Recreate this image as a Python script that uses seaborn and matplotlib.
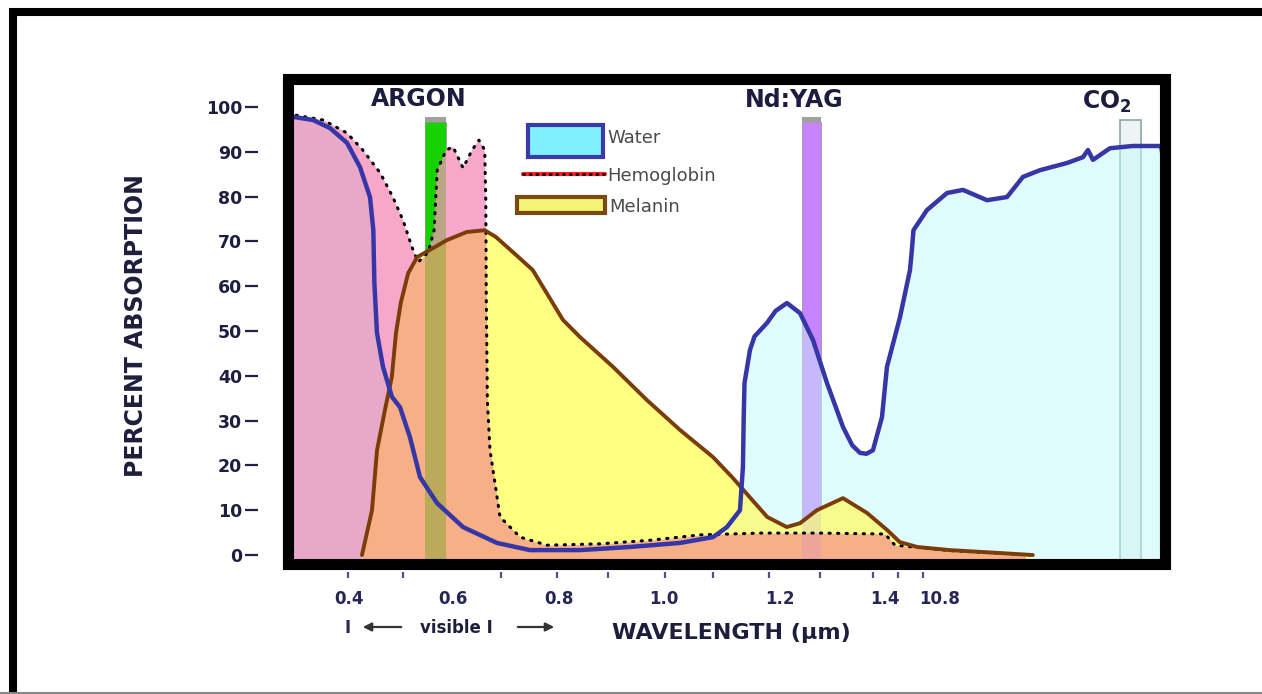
import numpy as np
import matplotlib
matplotlib.use('Agg')
import matplotlib.pyplot as plt
from matplotlib.patches import Rectangle
from matplotlib.lines import Line2D
import seaborn as sns

# x is the chart's position scale (0.4 .. 1.4 spaced as on the original, then 10.8 and beyond)
hemo_x = [0.286, 0.300, 0.353, 0.398, 0.428, 0.461, 0.485, 0.504, 0.521, 0.533, 0.552, 0.563,
          0.569, 0.586, 0.599, 0.618, 0.635, 0.648, 0.659, 0.661, 0.662, 0.664, 0.669, 0.688,
          0.726, 0.777, 0.877, 0.972, 1.067, 1.180, 1.294, 1.417, 1.436, 1.540, 1.650, 1.690]
hemo_y = [98.5, 98.2, 97.1, 94.2, 90.4, 85.3, 79.9, 74.8, 68.8, 65.4, 67.6, 72.5,
          85.9, 90.4, 91.1, 86.4, 90.4, 92.6, 90.4, 79.2, 56.9, 34.6, 23.4, 8.5,
          4.0, 2.2, 2.5, 3.3, 4.5, 4.9, 4.9, 4.7, 2.2, 1.0, 0.3, 0.0]

mel_x = [0.4265, 0.4455, 0.455, 0.470, 0.483, 0.491, 0.500, 0.514, 0.531, 0.555, 0.5875, 0.625,
         0.659, 0.680, 0.7125, 0.750, 0.807, 0.839, 0.902, 0.966, 1.029, 1.091, 1.129, 1.161,
         1.194, 1.231, 1.256, 1.288, 1.3375, 1.383, 1.421, 1.445, 1.478, 1.540, 1.635, 1.697]
mel_y = [0, 10.0, 23.4, 32.4, 39.7, 49.6, 56.3, 62.9, 66.5, 68.1, 70.3, 72.1,
         72.5, 71.0, 67.6, 63.6, 52.5, 48.7, 42.0, 34.6, 27.9, 21.9, 17.2, 12.9,
         8.5, 6.25, 7.1, 10.0, 12.7, 9.4, 5.6, 2.9, 1.8, 1.1, 0.45, 0]

water_x = [0.2958, 0.3337, 0.3659, 0.3981, 0.4227, 0.4417, 0.4480, 0.4500, 0.4549, 0.4663,
           0.4833, 0.4985, 0.5174, 0.5364, 0.5686, 0.6178, 0.6822, 0.7447, 0.8394, 0.9341,
           1.0288, 1.0913, 1.1178, 1.1424, 1.1480, 1.1495, 1.1510, 1.1614, 1.1700, 1.1936,
           1.2100, 1.2314, 1.2561, 1.2807, 1.3072, 1.3375, 1.3550, 1.3697, 1.3820, 1.3943,
           1.4114, 1.4208, 1.4455, 1.4644, 1.4680, 1.4710, 1.4966, 1.5345, 1.5648, 1.6102,
           1.6481, 1.6784, 1.7106, 1.7617, 1.7920, 1.8015, 1.8110, 1.8432, 1.8867, 1.9400,
           1.9450]
water_y = [97.8, 97.1, 95.3, 92.0, 86.6, 79.9, 72.5, 60.7, 49.6, 42.0,
           35.3, 33.0, 26.3, 17.4, 11.6, 6.25, 2.7, 1.1, 1.1, 1.8,
           2.7, 4.0, 6.25, 10.0, 19.6, 30.8, 38.4, 45.8, 48.8, 51.8,
           54.5, 56.25, 54.0, 48.0, 38.4, 28.6, 24.5, 22.8, 22.6, 23.4,
           30.8, 42.0, 53.1, 63.6, 68.1, 72.5, 77.0, 80.8, 81.5, 79.2,
           79.9, 84.4, 85.9, 87.5, 88.8, 90.4, 88.2, 90.8, 91.3, 91.3,
           87.5]

y_ticks = [0, 10, 20, 30, 40, 50, 60, 70, 80, 90, 100]
x_label_pos = [0.402, 0.599, 0.800, 0.9985, 1.218, 1.417, 1.521]
x_labels = ['0.4', '0.6', '0.8', '1.0', '1.2', '1.4', '10.8']
x_tick_marks = [0.4, 0.504, 0.599, 0.690, 0.796, 0.892, 1.0, 1.091, 1.197, 1.294, 1.394, 1.442, 1.489]

lasers = ['ARGON', 'Nd:YAG', r'CO$_\mathbf{2}$']
laser_bands = [(0.546, 0.586), (1.260, 1.296), (1.862, 1.902)]
laser_colors = ['#00ec00', '#cc88ff', '#eef3f3']

sns.set_style('white')
plt.rcParams['font.family'] = ['DejaVu Sans']

W, H = 1262, 694
fig = plt.figure(figsize=(W / 100, H / 100), dpi=100)
ax = fig.add_axes([288 / W, 1 - 564 / H, (1165 - 288) / W, (564 - 79) / H])
x_lo, x_hi = 0.2864, 1.9474
ax.set_xlim(x_lo, x_hi)
ax.set_ylim(-2.0, 106.25)
base = -3

grid = np.linspace(x_lo, x_hi, 6000)
h = np.interp(grid, hemo_x, hemo_y)
m = np.interp(grid, mel_x, mel_y, left=0, right=0)
w = np.interp(grid, water_x, water_y)
h2 = np.where(h > 0.05, h, base)
m2 = np.where(m > 0.05, m, base)
lo = np.minimum(h2, m2)
hi = np.maximum(h2, m2)
w_in = np.clip(w, lo, hi)

# laser bands (under everything)
for (a, b), col in zip(laser_bands[:2], laser_colors[:2]):
    ax.add_patch(Rectangle((a, base), b - a, 96.65 - base, fc=col, ec='#9a9a9a', lw=0.6, zorder=1))
    ax.add_patch(Rectangle((a, 96.65), b - a, 1.2, fc='#a0a0a0', lw=0, zorder=1))
a, b = laser_bands[2]
ax.add_patch(Rectangle((a, base), b - a, 97.1 - base, fc=laser_colors[2], ec='#8aa8a8', lw=1.2, zorder=1))

# absorption fills
ax.fill_between(grid, base, w, color='#c7f9f9', alpha=0.55, lw=0, zorder=2)
ax.fill_between(grid, lo, hi, where=h2 >= m2, color='#f7a8ca', lw=0, zorder=3, interpolate=True)
ax.fill_between(grid, lo, hi, where=m2 > h2, color='#ffff80', lw=0, zorder=3, interpolate=True)
# parts of those covered by the water band
ax.fill_between(grid, lo, w_in, where=(h2 >= m2) & (w > lo), color='#e8a9c9', lw=0, zorder=3.2,
                interpolate=True)
ax.fill_between(grid, lo, w_in, where=(m2 > h2) & (w > lo), color='#f6fb8e', lw=0, zorder=3.2,
                interpolate=True)
ax.fill_between(grid, base, lo, color='#f7af87', lw=0, zorder=3.3)

# tint of the bars where they cross the fills
a, b = laser_bands[0]
ax.add_patch(Rectangle((a, base), b - a, 96.65 - base, fc='#40a000', alpha=0.33, lw=0, zorder=3.5))
a, b = laser_bands[1]
ax.add_patch(Rectangle((a, base), b - a, 96.65 - base, fc='#b070ff', alpha=0.15, lw=0, zorder=3.5))

sns.lineplot(x=hemo_x, y=hemo_y, sort=False, estimator=None, color='black', lw=2.2,
             linestyle=(0, (0.4, 2.4)), dash_capstyle='round', ax=ax, zorder=5)
sns.lineplot(x=mel_x, y=mel_y, sort=False, estimator=None, color='#7a3c08', lw=2.8, ax=ax, zorder=6)
sns.lineplot(x=water_x, y=water_y, sort=False, estimator=None, color='#3636a6', lw=3.2, ax=ax, zorder=7)

# laser names
title_kw = dict(ha='center', va='center', fontsize=17, fontweight='bold', color='#1c1c3e', zorder=8)
ax.text(0.5345, 101.8, lasers[0], **title_kw)
ax.text(1.2447, 101.6, lasers[1], **title_kw)
ax.text(1.8375, 101.1, lasers[2], **title_kw)

# legend drawn by hand
ax.add_patch(Rectangle((0.7409, 88.84), 0.1421, 7.14, fc='#80f0ff', ec='#3a3aa8', lw=3, zorder=8))
ax.plot([0.7314, 0.8867], [85.0, 85.0], color='#ff2424', lw=3, zorder=8)
ax.plot([0.7314, 0.8867], [85.0, 85.0], color='black', lw=2, linestyle=(0, (0.4, 2.0)),
        dash_capstyle='round', zorder=9)
ax.add_patch(Rectangle((0.7200, 76.3), 0.1667, 3.6, fc='#f5f575', ec='#7a4a14', lw=3, zorder=8))
leg_kw = dict(ha='left', va='center', fontsize=13, color='#4a4a4a', zorder=9)
ax.text(0.8905, 93.1, 'Water', **leg_kw)
ax.text(0.8905, 84.6, 'Hemoglobin', **leg_kw)
ax.text(0.8940, 77.7, 'Melanin', **leg_kw)

# thick frame
ax.add_patch(Rectangle((0, 0), 1, 1, transform=ax.transAxes, fill=False, ec='black', lw=8,
                       clip_on=False, zorder=10))
for s in ax.spines.values():
    s.set_visible(False)
ax.spines['left'].set_position(('outward', 21.6))
ax.spines['bottom'].set_position(('outward', 5.8))

ax.set_yticks(y_ticks)
ax.set_yticklabels([str(v) for v in y_ticks], fontweight='bold', fontsize=12.5, color='#1e1e40')
ax.tick_params(axis='y', which='major', left=True, direction='out', length=9.4, width=1.6,
               color='#222244', pad=2)
ax.set_xticks(x_label_pos)
ax.set_xticklabels(x_labels, fontweight='bold', fontsize=12, color='#262656')
ax.set_xticks(x_tick_marks, minor=True)
ax.tick_params(axis='x', which='major', bottom=True, length=0, pad=13)
ax.tick_params(axis='x', which='minor', bottom=True, direction='out', length=4.3, width=1.6,
               color='#5a4a90')
ax.set_xlabel('')
ax.set_ylabel('')

fig.text(136 / W, 1 - 326 / H, 'PERCENT ABSORPTION', rotation=90, ha='center', va='center',
         fontsize=17, fontweight='bold', color='#1e1e3c')
fig.text(731 / W, 1 - 633 / H, 'WAVELENGTH (µm)', ha='center', va='center',
         fontsize=16, fontweight='bold', color='#1e1e3c')

# visible range marker
fig.text(348 / W, 1 - 628 / H, 'I', ha='center', va='center', fontsize=12, fontweight='bold',
         color='#2a2a5a')
fig.text(456 / W, 1 - 628 / H, 'visible I', ha='center', va='center', fontsize=12,
         fontweight='bold', color='#1e1e3c')
arrow_kw = dict(arrowstyle='-|>,head_length=0.5,head_width=0.25', color='#333333', lw=1.6)
ax.annotate('', xy=(360 / W, 1 - 627 / H), xytext=(404 / W, 1 - 627 / H),
            xycoords='figure fraction', arrowprops=arrow_kw)
ax.annotate('', xy=(557 / W, 1 - 627 / H), xytext=(515 / W, 1 - 627 / H),
            xycoords='figure fraction', arrowprops=arrow_kw)

# outer picture border
fig.add_artist(Line2D([13 / W, 13 / W], [0, 1 - 8 / H], transform=fig.transFigure, color='black',
                      lw=5.8, solid_capstyle='butt'))
fig.add_artist(Line2D([9 / W, 1], [1 - 12 / H, 1 - 12 / H], transform=fig.transFigure,
                      color='black', lw=5.8, solid_capstyle='butt'))
fig.add_artist(Line2D([0, 1], [1.5 / H, 1.5 / H], transform=fig.transFigure, color='#888888',
                      lw=1.5))

fig.savefig('out.png', dpi=100)
